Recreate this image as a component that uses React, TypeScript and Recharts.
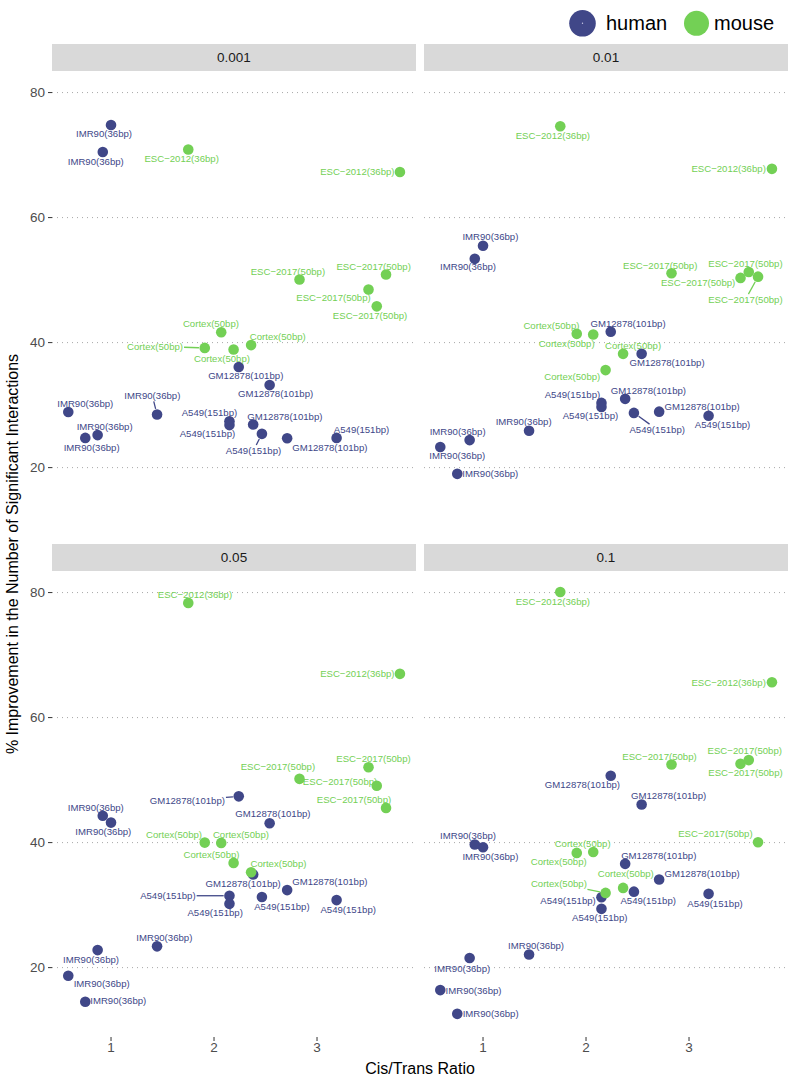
import React from 'react';
import { ScatterChart, Scatter, XAxis, YAxis, ReferenceLine } from 'recharts';

// ---------- data ----------
const sampleNames = [
  'IMR90(36bp)', 'IMR90(36bp)', 'IMR90(36bp)', 'IMR90(36bp)', 'IMR90(36bp)', 'IMR90(36bp)',
  'ESC−2012(36bp)', 'ESC−2012(36bp)',
  'ESC−2017(50bp)', 'ESC−2017(50bp)', 'ESC−2017(50bp)', 'ESC−2017(50bp)',
  'Cortex(50bp)', 'Cortex(50bp)', 'Cortex(50bp)', 'Cortex(50bp)',
  'GM12878(101bp)', 'GM12878(101bp)', 'GM12878(101bp)', 'GM12878(101bp)',
  'A549(151bp)', 'A549(151bp)', 'A549(151bp)', 'A549(151bp)',
];
const sampleSpecies = [
  'human', 'human', 'human', 'human', 'human', 'human',
  'mouse', 'mouse', 'mouse', 'mouse', 'mouse', 'mouse', 'mouse', 'mouse', 'mouse', 'mouse',
  'human', 'human', 'human', 'human', 'human', 'human', 'human', 'human',
];
const cisTransRatio = [1.0, 0.92, 0.585, 1.447, 0.75, 0.87, 1.75, 3.805, 2.83, 3.67, 3.5, 3.58, 2.07, 1.91, 2.19, 2.36, 2.24, 2.54, 2.38, 2.71, 2.15, 2.15, 2.465, 3.19];
const improvement001 = [74.8, 70.5, 28.9, 28.5, 24.75, 25.2, 70.9, 67.3, 50.1, 50.9, 48.5, 45.8, 41.65, 39.15, 38.9, 39.6, 36.1, 33.2, 26.9, 24.7, 27.4, 26.8, 25.4, 24.75];
const improvement01 = [55.5, 53.4, 23.3, 25.9, 19.0, 24.4, 74.6, 67.8, 51.1, 50.55, 50.35, 51.3, 41.3, 41.4, 35.6, 38.2, 41.75, 38.2, 31.0, 28.95, 30.35, 29.7, 28.75, 28.3];
const improvement05 = [43.2, 44.3, 18.7, 23.4, 14.55, 22.8, 78.35, 67.0, 50.2, 45.55, 52.05, 49.1, 39.95, 40.0, 36.75, 35.25, 47.4, 43.1, 34.9, 32.4, 31.5, 30.2, 31.3, 30.8];
const improvement1 = [39.25, 39.7, 16.4, 22.1, 12.6, 21.55, 80.1, 65.65, 52.5, 40.05, 52.6, 53.2, 38.5, 38.35, 31.95, 32.75, 50.7, 46.1, 36.6, 34.1, 31.25, 29.4, 32.15, 31.8];
const facetLabels = ['0.001', '0.01', '0.05', '0.1'];
const xTicks = [1, 2, 3];
const yTicks = [20, 40, 60, 80];
const speciesNames = ['human', 'mouse'];

// ---------- layout (label nudges in px: dx, dy, connector) ----------
const nudge001 = [[-7, 8.6], [-7, 9.4], [17, -8.3], [-4.7, -18.7, 1], [6.4, 9.4], [7, -8.7], [-6.6, 9.3], [-42.6, 0], [-11.6, -8.3], [-12.4, -8.3], [-35, 8.6], [-6.7, 9], [-10.3, -8.4], [-49.7, -1.6, 1], [-11.6, 8.7], [26.7, -8.4], [7, 8.7], [6, 9], [31.7, -8], [42.7, 9], [-20, -8.4], [-22, 8.3], [-8.4, 16.7, 1], [25, -8.3]];
const nudge01 = [[7.4, -9], [-6.7, 8.3], [17, 8.7], [-5.4, -9], [33, 0], [-12, -8.4], [-7.4, 9], [-43.3, 0], [-11.3, -8], [-12.6, 23, 1], [-42.4, 4.4], [-3.3, -8.3], [-26.6, 9], [-25.3, -8.3], [-33.3, 7], [10, -8], [17.3, -8.3], [25.4, 9], [23.3, -8.3], [43, -4.7], [-29, -8], [-11, 9], [23.3, 16.7, 1], [14, 9.3]];
const nudge05 = [[-7.7, 8.7], [-7, -8.3], [33.4, 7.7], [7.3, -8.7], [33, -0.7], [-6.6, 9.3], [6.7, -8.3], [-42.6, 0], [-21.6, -12.6], [-32, -8.3], [5, -8.7], [-36.7, -4], [19.7, -8], [-30.7, -8.3], [-22, -8], [27.4, -8.4], [-51.4, 4, 1], [3.3, -9.4], [-10, 9.3], [42.7, -8], [-61.6, 0, 1], [-14.3, 9], [20, 9.4], [11.6, 9.3]];
const nudge1 = [[7.4, 9.3], [-6.7, -9], [33.3, 0.7], [7, -8.7], [33.4, -0.6], [-7.4, 10.4], [-7.4, 9.4], [-43.3, 0], [-12, -8.3], [-42.6, -8.4], [5, 9.3], [-4, -9.4], [-10.6, -8.3], [-18, 8.7], [-46.7, -9, 1], [2.7, -14], [-28.3, 8.7], [27, -8.4], [33.6, -8.3], [43, -5.7], [-33.4, 3.6], [-1.7, 8.4], [14.3, 9.3], [6.4, 9.4]];

const W = 797;
const H = 1081;
const FONT = '"Liberation Sans", Arial, Helvetica, sans-serif';
const COLORS: Record<string, string> = { human: '#404788', mouse: '#73D055' };
const X_DOMAIN: [number, number] = [0.427, 3.961];
const Y_DOMAIN: [number, number] = [8.9, 83.45];
const PANEL_W = 364;
const PANEL_H = 466;
const STRIP_H = 27;
const LABEL_FS = 9.6;
const POINT_R = 5.3;

const panels = [
  { label: facetLabels[0], values: improvement001, nudges: nudge001, left: 52, top: 71, showX: false, showY: true },
  { label: facetLabels[1], values: improvement01, nudges: nudge01, left: 424, top: 71, showX: false, showY: false },
  { label: facetLabels[2], values: improvement05, nudges: nudge05, left: 52, top: 571, showX: true, showY: true },
  { label: facetLabels[3], values: improvement1, nudges: nudge1, left: 424, top: 571, showX: true, showY: false },
];

const charW: Record<string, number> = {
  '(': 0.333, ')': 0.333, I: 0.278, M: 0.833, R: 0.722, E: 0.667, S: 0.667, C: 0.722, G: 0.778, A: 0.667,
  '−': 0.584, r: 0.333, t: 0.278, x: 0.5, s: 0.5,
};
const textWidth = (s: string) => s.split('').reduce((a, c) => a + (charW[c] ?? 0.556), 0) * LABEL_FS;

const PointShape = (props: any) => {
  const { cx, cy, payload } = props;
  if (cx == null || cy == null) return null;
  return <circle cx={cx} cy={cy} r={POINT_R} fill={COLORS[payload.species]} />;
};

const LabelShape = (props: any) => {
  const { cx, cy, payload } = props;
  if (cx == null || cy == null) return null;
  const color = COLORS[payload.species];
  const lx = cx + payload.dx;
  const ly = cy + payload.dy;
  let seg = null;
  if (payload.seg) {
    const hw = textWidth(payload.name) / 2 + 1;
    const hh = 5.5;
    const vx = cx - lx;
    const vy = cy - ly;
    const t = Math.min(hw / Math.max(Math.abs(vx), 1e-6), hh / Math.max(Math.abs(vy), 1e-6));
    const ex = lx + vx * t;
    const ey = ly + vy * t;
    const len = Math.hypot(vx, vy);
    const sx = cx - (vx / len) * (POINT_R + 0.5);
    const sy = cy - (vy / len) * (POINT_R + 0.5);
    seg = <line x1={sx} y1={sy} x2={ex} y2={ey} stroke={color} strokeWidth={1.3} />;
  }
  return (
    <g>
      {seg}
      <text x={lx} y={ly} dy="0.35em" textAnchor="middle" fontSize={LABEL_FS} fontFamily={FONT} fill={color}>
        {payload.name}
      </text>
    </g>
  );
};

const Panel = ({ p }: { p: typeof panels[number] }) => {
  const rows = sampleNames.map((name, i) => ({
    name,
    species: sampleSpecies[i],
    x: cisTransRatio[i],
    y: p.values[i],
    dx: p.nudges[i][0],
    dy: p.nudges[i][1],
    seg: p.nudges[i][2] === 1,
  }));
  const human = rows.filter((r) => r.species === 'human');
  const mouse = rows.filter((r) => r.species === 'mouse');
  const yAxisW = 22;
  const xAxisH = 20;
  const margin = {
    top: p.top,
    bottom: H - p.top - PANEL_H - (p.showX ? xAxisH : 0),
    left: p.showY ? p.left - yAxisW : p.left,
    right: W - p.left - PANEL_W,
  };
  return (
    <div style={{ position: 'absolute', left: 0, top: 0 }}>
      <ScatterChart width={W} height={H} margin={margin}>
        <XAxis
          type="number"
          dataKey="x"
          domain={X_DOMAIN}
          allowDataOverflow
          ticks={xTicks}
          hide={!p.showX}
          height={xAxisH}
          axisLine={false}
          tickSize={4}
          tickMargin={1}
          tickLine={{ stroke: '#333333' }}
          tick={{ fontSize: 13.5, fill: '#4d4d4d', fontFamily: FONT }}
        />
        <YAxis
          type="number"
          dataKey="y"
          domain={Y_DOMAIN}
          allowDataOverflow
          ticks={yTicks}
          hide={!p.showY}
          width={yAxisW}
          axisLine={false}
          tickSize={4}
          tickMargin={3}
          tickLine={{ stroke: '#333333' }}
          tick={{ fontSize: 13.5, fill: '#4d4d4d', fontFamily: FONT }}
        />
        {yTicks.map((t) => (
          <ReferenceLine key={t} y={t} stroke="#a8a8a8" strokeDasharray="1 4" strokeWidth={1} />
        ))}
        <Scatter data={human} fill={COLORS.human} shape={PointShape} isAnimationActive={false} />
        <Scatter data={mouse} fill={COLORS.mouse} shape={PointShape} isAnimationActive={false} />
        <Scatter data={rows} fill="none" shape={LabelShape} isAnimationActive={false} />
      </ScatterChart>
    </div>
  );
};

export default function App() {
  return (
    <div style={{ position: 'absolute', left: 0, top: 0, width: W, height: H, background: '#ffffff', overflow: 'hidden' }}>
      <svg width={W} height={H} style={{ position: 'absolute', left: 0, top: 0 }}>
        {panels.map((p) => (
          <g key={p.label}>
            <rect x={p.left} y={p.top - STRIP_H} width={PANEL_W} height={STRIP_H} fill="#d9d9d9" />
            <text x={p.left + PANEL_W / 2} y={p.top - STRIP_H / 2} dy="0.35em" textAnchor="middle" fontSize={13.5} fontFamily={FONT} fill="#1a1a1a">
              {p.label}
            </text>
          </g>
        ))}
        <text x={420} y={1068} dy="0.35em" textAnchor="middle" fontSize={16} fontFamily={FONT} fill="#000000">
          Cis/Trans Ratio
        </text>
        <text x={12} y={554} dy="0.35em" textAnchor="middle" fontSize={16} fontFamily={FONT} fill="#000000" transform="rotate(-90 12 554)">
          % Improvement in the Number of Significant Interactions
        </text>
        <g>
          <circle cx={582.5} cy={23.3} r={13.3} fill={COLORS[speciesNames[0]]} />
          <circle cx={582.5} cy={23.3} r={0.7} fill="#c9cbe6" />
          <text x={606} y={23.3} dy="0.35em" fontSize={20} fontFamily={FONT} fill="#000000">{speciesNames[0]}</text>
          <circle cx={696.5} cy={23.3} r={12.5} fill={COLORS[speciesNames[1]]} />
          <text x={714} y={23.3} dy="0.35em" fontSize={20} fontFamily={FONT} fill="#000000">{speciesNames[1]}</text>
        </g>
      </svg>
      {panels.map((p) => (
        <Panel key={p.label} p={p} />
      ))}
    </div>
  );
}
